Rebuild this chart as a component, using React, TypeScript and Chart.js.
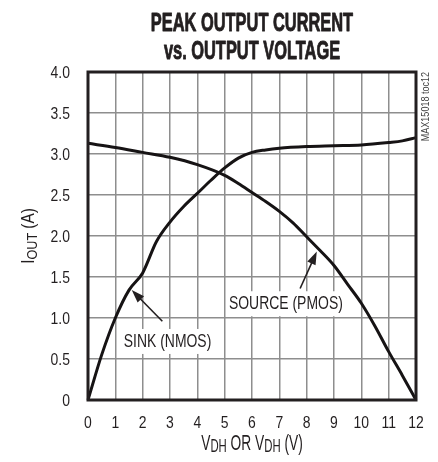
import React, { useEffect, useRef } from "react";
import { Chart, registerables } from "chart.js";

Chart.register(...registerables);

// ---- data ----
const sinkV = [0, 0.5, 1, 1.5, 2, 2.5, 3, 3.5, 4, 4.5, 5, 5.5, 6, 6.5, 7, 8, 9, 10, 11, 11.5, 12];
const sinkI = [0, 0.55, 1.0, 1.34, 1.55, 1.93, 2.17, 2.36, 2.52, 2.68, 2.83, 2.95, 3.02, 3.05, 3.07, 3.09, 3.1, 3.11, 3.14, 3.16, 3.2];

const sourceV = [0, 1, 2, 3, 4, 5, 5.5, 6, 6.5, 7, 7.5, 8, 8.5, 9, 9.5, 10, 10.5, 11, 11.5, 12];
const sourceI = [3.13, 3.08, 3.02, 2.96, 2.87, 2.74, 2.64, 2.53, 2.42, 2.3, 2.16, 1.99, 1.82, 1.64, 1.41, 1.18, 0.9, 0.59, 0.3, 0];

const xTicks = [0, 1, 2, 3, 4, 5, 6, 7, 8, 9, 10, 11, 12];
const xTickLabels = ["0", "1", "2", "3", "4", "5", "6", "7", "8", "9", "10", "11", "12"];
const yTicks = [0, 0.5, 1, 1.5, 2, 2.5, 3, 3.5, 4];
const yTickLabels = ["0", "0.5", "1.0", "1.5", "2.0", "2.5", "3.0", "3.5", "4.0"];

const titleLines = ["PEAK OUTPUT CURRENT", "vs. OUTPUT VOLTAGE"];
const sinkLabel = "SINK (NMOS)";
const sourceLabel = "SOURCE (PMOS)";
const sideNote = "MAX15018 toc12";

// annotation anchors in data units
const sinkAnno = { x: 2.91, y: 0.72, tipX: 1.6, tipY: 1.34, tailX: 2.72, tailY: 0.96 };
const sourceAnno = { x: 7.24, y: 1.18, tipX: 8.37, tipY: 1.81, tailX: 7.76, tailY: 1.36 };

const FONT = '"Liberation Sans", Arial, sans-serif';
const NARROW = 0.82;
const INK = "#231f20";

type Seg = { t: string; sub?: boolean };

function condText(
  ctx: CanvasRenderingContext2D,
  text: string,
  x: number,
  y: number,
  font: string,
  sx: number,
  sy: number,
  align: CanvasTextAlign,
  baseline: CanvasTextBaseline,
  strokeW = 0
) {
  ctx.save();
  ctx.font = font;
  ctx.textAlign = align;
  ctx.textBaseline = baseline;
  ctx.translate(x, y);
  ctx.scale(sx, sy);
  ctx.fillText(text, 0, 0);
  if (strokeW > 0) {
    ctx.strokeStyle = ctx.fillStyle as string;
    ctx.lineWidth = strokeW;
    ctx.lineJoin = "round";
    ctx.strokeText(text, 0, 0);
  }
  ctx.restore();
}

function drawSegs(
  ctx: CanvasRenderingContext2D,
  segs: Seg[],
  cx: number,
  baseY: number,
  size: number,
  subSize: number,
  sx: number,
  sy: number,
  subShift: number
) {
  const widths = segs.map((s) => {
    ctx.font = `${s.sub ? subSize : size}px ${FONT}`;
    return ctx.measureText(s.t).width * sx;
  });
  const total = widths.reduce((a, b) => a + b, 0);
  let x = cx - total / 2;
  segs.forEach((s, i) => {
    condText(ctx, s.t, x, baseY + (s.sub ? subShift : 0), `${s.sub ? subSize : size}px ${FONT}`, sx, sy, "left", "alphabetic");
    x += widths[i];
  });
}

function drawArrow(ctx: CanvasRenderingContext2D, x1: number, y1: number, x2: number, y2: number) {
  const ang = Math.atan2(y2 - y1, x2 - x1);
  const head = 13;
  const half = 4.5;
  ctx.strokeStyle = INK;
  ctx.lineWidth = 1.6;
  ctx.beginPath();
  ctx.moveTo(x1, y1);
  ctx.lineTo(x2 - Math.cos(ang) * head * 0.8, y2 - Math.sin(ang) * head * 0.8);
  ctx.stroke();
  ctx.fillStyle = INK;
  ctx.beginPath();
  ctx.moveTo(x2, y2);
  ctx.lineTo(x2 - Math.cos(ang) * head + Math.sin(ang) * half, y2 - Math.sin(ang) * head - Math.cos(ang) * half);
  ctx.lineTo(x2 - Math.cos(ang) * head - Math.sin(ang) * half, y2 - Math.sin(ang) * head + Math.cos(ang) * half);
  ctx.closePath();
  ctx.fill();
}

const decorPlugin = {
  id: "decor",
  afterDatasetsDraw(chart: any) {
    const { ctx, chartArea: a, scales } = chart;
    const xs = scales.x;
    const ys = scales.y;
    ctx.save();
    // annotations
    const annos = [
      { text: sinkLabel, a: sinkAnno },
      { text: sourceLabel, a: sourceAnno },
    ];
    const afont = `17px ${FONT}`;
    annos.forEach(({ text, a: an }) => {
      const cx = xs.getPixelForValue(an.x);
      const cy = ys.getPixelForValue(an.y);
      ctx.font = afont;
      const w = ctx.measureText(text).width * NARROW;
      ctx.fillStyle = "#ffffff";
      ctx.fillRect(cx - w / 2 - 3, cy - 12, w + 6, 25);
      ctx.fillStyle = INK;
      condText(ctx, text, cx, cy + 1, afont, NARROW, 1.1, "center", "middle");
      drawArrow(
        ctx,
        xs.getPixelForValue(an.tailX),
        ys.getPixelForValue(an.tailY),
        xs.getPixelForValue(an.tipX),
        ys.getPixelForValue(an.tipY)
      );
    });
    // frame
    ctx.strokeStyle = INK;
    ctx.lineWidth = 3;
    ctx.strokeRect(a.left, a.top, a.right - a.left, a.bottom - a.top);
    ctx.restore();
  },
  afterDraw(chart: any) {
    const { ctx, chartArea: a, scales } = chart;
    const xs = scales.x;
    const ys = scales.y;
    const cx = (a.left + a.right) / 2;
    ctx.save();
    ctx.fillStyle = INK;
    // tick labels, positioned by the library's scales
    const tfont = `17px ${FONT}`;
    ys.ticks.forEach((t: any) => {
      const lab = yTickLabels[yTicks.indexOf(t.value)] ?? "";
      condText(ctx, lab, a.left - 18, ys.getPixelForValue(t.value) + 1, tfont, NARROW, 1.0, "right", "middle");
    });
    xs.ticks.forEach((t: any) => {
      const lab = xTickLabels[xTicks.indexOf(t.value)] ?? "";
      condText(ctx, lab, xs.getPixelForValue(t.value), a.bottom + 23, tfont, NARROW, 1.0, "center", "middle");
    });
    // title (tall, heavy condensed look)
    [30.5, 59].forEach((by, i) => {
      condText(ctx, titleLines[i], cx, by, `bold 20px ${FONT}`, NARROW, 1.26, "center", "alphabetic", 0.7);
    });
    // x axis title
    drawSegs(
      ctx,
      [{ t: "V" }, { t: "DH", sub: true }, { t: " OR V" }, { t: "DH", sub: true }, { t: " (V)" }],
      cx,
      450,
      17,
      14,
      0.81,
      1.25,
      2
    );
    // y axis title
    ctx.save();
    ctx.translate(28, (a.top + a.bottom) / 2);
    ctx.rotate(-Math.PI / 2);
    drawSegs(ctx, [{ t: "I" }, { t: "OUT", sub: true }, { t: " (A)" }], 0, 6, 17, 14, 0.9, 1.1, 3);
    ctx.restore();
    // side note
    ctx.save();
    ctx.fillStyle = "#444";
    ctx.translate(429, a.top);
    ctx.rotate(-Math.PI / 2);
    condText(ctx, sideNote, 0, 0, `11px ${FONT}`, NARROW, 1, "right", "alphabetic");
    ctx.restore();
    ctx.restore();
  },
};

export default function App() {
  const ref = useRef<HTMLCanvasElement | null>(null);

  useEffect(() => {
    document.body.style.margin = "0";
    const canvas = ref.current;
    if (!canvas) return;
    const chart = new Chart(canvas, {
      type: "line",
      data: {
        datasets: [
          {
            label: "SINK (NMOS)",
            data: sinkV.map((v, i) => ({ x: v, y: sinkI[i] })),
            borderColor: "#161314",
            borderWidth: 3,
            pointRadius: 0,
            cubicInterpolationMode: "monotone",
            fill: false,
            clip: 4,
          },
          {
            label: "SOURCE (PMOS)",
            data: sourceV.map((v, i) => ({ x: v, y: sourceI[i] })),
            borderColor: "#161314",
            borderWidth: 3,
            pointRadius: 0,
            cubicInterpolationMode: "monotone",
            fill: false,
            clip: 4,
          },
        ],
      },
      options: {
        animation: false,
        responsive: false,
        devicePixelRatio: 1,
        layout: { padding: { top: 72, right: 22, left: 0, bottom: 0 } },
        plugins: {
          legend: { display: false },
          tooltip: { enabled: false },
          title: { display: false },
        },
        scales: {
          x: {
            type: "linear",
            min: 0,
            max: 12,
            afterFit: (s: any) => {
              s.height = 62;
            },
            afterBuildTicks: (s: any) => {
              s.ticks = xTicks.map((v) => ({ value: v }));
            },
            ticks: { display: false, autoSkip: false },
            grid: { color: "#8e8e8e", lineWidth: 1.5, drawTicks: false },
            border: { display: false },
          },
          y: {
            type: "linear",
            min: 0,
            max: 4,
            afterFit: (s: any) => {
              s.width = 88;
            },
            afterBuildTicks: (s: any) => {
              s.ticks = yTicks.map((v) => ({ value: v }));
            },
            ticks: { display: false, autoSkip: false },
            grid: { color: "#8e8e8e", lineWidth: 1.5, drawTicks: false },
            border: { display: false },
          },
        },
      },
      plugins: [decorPlugin],
    });
    return () => chart.destroy();
  }, []);

  return (
    <div style={{ width: 438, height: 462, background: "#fff" }}>
      <canvas ref={ref} width={438} height={462} style={{ display: "block" }} />
    </div>
  );
}
